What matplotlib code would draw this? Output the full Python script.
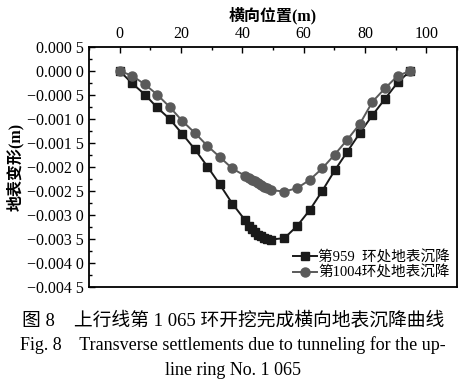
import matplotlib.pyplot as plt
from matplotlib.ticker import MultipleLocator, FuncFormatter

plt.rcParams['font.family'] = ['Liberation Serif', 'Noto Sans CJK SC']
plt.rcParams['axes.unicode_minus'] = True

# 第959环
x959 = [0, 4.1, 8.2, 12.2, 16.3, 20.4, 24.5, 28.6, 32.6, 36.7, 40.8,
        42, 43, 44, 45, 46, 47, 48, 49.2,
        53.7, 57.8, 61.9, 66.0, 70.1, 74.2, 78.3, 82.4, 86.5, 90.6, 94.7]
y959 = [0, -0.00026, -0.00049, -0.00076, -0.00100, -0.00131, -0.00163, -0.00199,
        -0.00236, -0.00276, -0.00310,
        -0.00322, -0.00330, -0.00336, -0.00341, -0.00344, -0.00347, -0.00349, -0.00351,
        -0.00348, -0.00323, -0.00290, -0.00250, -0.00207, -0.00168, -0.00129,
        -0.00092, -0.00058, -0.00024, 0]

# 第1004环
x1004 = [0, 4.1, 8.2, 12.2, 16.3, 20.4, 24.5, 28.6, 32.6, 36.7, 40.8,
         42, 43, 44, 45, 46, 47, 48, 49.2,
         53.7, 57.8, 61.9, 66.0, 70.1, 74.2, 78.3, 82.4, 86.5, 90.6, 94.7]
y1004 = [0, -0.00010, -0.00028, -0.00049, -0.00075, -0.00104, -0.00129, -0.00156,
         -0.00179, -0.00203, -0.00218,
         -0.00222, -0.00226, -0.00230, -0.00234, -0.00238, -0.00241, -0.00244, -0.00248,
         -0.00251, -0.00244, -0.00227, -0.00203, -0.00174, -0.00143, -0.00110,
         -0.00064, -0.00036, -0.00010, 0]

fig = plt.figure(figsize=(4.66, 3.88), dpi=100)
ax = fig.add_axes([0.191, 0.260, 0.790, 0.619])

ax.plot(x959, y959, color='#1a1a1a', marker='s', markersize=5.5, linewidth=1.4,
        label='第959  环处地表沉降')
ax.plot(x1004, y1004, color='#5a5a5a', marker='o', markersize=6.5, linewidth=1.4,
        label='第1004环处地表沉降')

ax.set_xlim(-10, 110)
ax.set_ylim(-0.0045, 0.0005)
ax.xaxis.set_major_locator(MultipleLocator(20))
ax.xaxis.set_minor_locator(MultipleLocator(10))
ax.yaxis.set_major_locator(MultipleLocator(0.0005))
ax.yaxis.set_minor_locator(MultipleLocator(0.00025))


def fmt_y(v, pos):
    s = '%.4f' % abs(v)
    s = s[:-1] + ' ' + s[-1]
    if v < -1e-9:
        s = '\u2212' + s
    return s


ax.yaxis.set_major_formatter(FuncFormatter(fmt_y))
ax.xaxis.tick_top()
ax.xaxis.set_label_position('top')
ax.tick_params(which='both', direction='in', top=True, bottom=False, left=True, right=False,
               labelsize=11.5)
ax.tick_params(which='major', length=4, width=1)
ax.tick_params(which='minor', length=2.5, width=1)
for sp in ax.spines.values():
    sp.set_linewidth(1.3)

ax.set_xlabel('横向位置(m)', fontsize=11.5, fontweight='bold', labelpad=4)
ax.set_ylabel('地表变形(m)', fontsize=11.5, fontweight='bold', labelpad=2)

ax.legend(loc='lower right', frameon=False, fontsize=10.5, handlelength=1.6,
          handletextpad=0.1, labelspacing=0.1, borderaxespad=0.1)

fig.text(0.5, 0.175, '图 8    上行线第 1 065 环开挖完成横向地表沉降曲线', ha='center',
         va='center', fontsize=13.5)
fig.text(0.5, 0.11, 'Fig. 8    Transverse settlements due to tunneling for the up-',
         ha='center', va='center', fontsize=13)
fig.text(0.5, 0.045, 'line ring No. 1 065', ha='center', va='center', fontsize=13)

fig.savefig('out.png', dpi=100)
